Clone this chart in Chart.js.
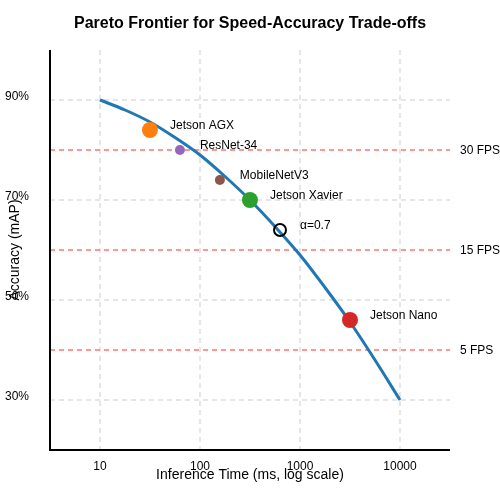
<!DOCTYPE html>
<html>
<head>
<meta charset="utf-8">
<script src="https://cdn.jsdelivr.net/npm/chart.js@4/dist/chart.umd.min.js"></script>
<style>
html,body{margin:0;padding:0;background:#fff;}
#wrap{width:500px;height:500px;position:relative;}
</style>
</head>
<body>
<div id="wrap"><canvas id="c" width="500" height="500"></canvas></div>
<script>
// ---- data ----
const frontierTime = [10, 17.8, 31.6, 56.2, 100, 178, 316, 562, 1000, 1778, 3162, 5623, 10000];
const frontierAcc  = [90, 88, 85.6, 82.5, 79, 74.7, 70, 64.7, 59, 52.5, 45.6, 38, 30];

const pointNames = ["Jetson AGX", "ResNet-34", "MobileNetV3", "Jetson Xavier", "α=0.7", "Jetson Nano"];
const pointTime  = [31.6, 63, 158, 316, 631, 3162];
const pointAcc   = [84, 80, 74, 70, 64, 46];

const fpsLabels = ["30 FPS", "15 FPS", "5 FPS"];
const fpsAcc    = [80, 60, 40];

const xTickValues = [10, 100, 1000, 10000];
const xTickLabels = ["10", "100", "1000", "10000"];
const yTickValues = [30, 50, 70, 90];
const yTickLabels = ["30%", "50%", "70%", "90%"];

const titleText = 'Pareto Frontier for Speed-Accuracy Trade-offs';
const xTitle = 'Inference Time (ms, log scale)';
const yTitle = 'Accuracy (mAP)';

const xMin = 3.1623, xMax = 31623;
const yMin = 20, yMax = 100;

// ---- styles ----
const pointColors = ["#ff7f0e", "#9467bd", "#8c564b", "#2ca02c", "rgba(0,0,0,0)", "#d62728"];
const pointBorders = ["#ff7f0e", "#9467bd", "#8c564b", "#2ca02c", "#000000", "#d62728"];
const pointRadii = [8, 5, 5, 8, 6, 8];
const pointBorderW = [0, 0, 0, 0, 2, 0];
const FONT = "'Liberation Sans', Arial, sans-serif";

const datasets = [];
fpsAcc.forEach((v, i) => {
  datasets.push({
    type: 'line',
    label: fpsLabels[i],
    data: [{x: xMin, y: v}, {x: xMax, y: v}],
    borderColor: 'rgba(255,100,100,0.9)',
    borderWidth: 1.5,
    borderDash: [5, 4],
    pointRadius: 0,
    fill: false,
    order: 3
  });
});
datasets.push({
  type: 'line',
  label: 'frontier',
  data: frontierTime.map((t, i) => ({x: t, y: frontierAcc[i]})),
  borderColor: '#1f77b4',
  borderWidth: 3,
  pointRadius: 0,
  tension: 0.4,
  cubicInterpolationMode: 'monotone',
  fill: false,
  order: 2
});
pointNames.forEach((n, i) => {
  datasets.push({
    type: 'scatter',
    label: n,
    data: [{x: pointTime[i], y: pointAcc[i]}],
    backgroundColor: pointColors[i],
    borderColor: pointBorders[i],
    borderWidth: pointBorderW[i],
    pointRadius: pointRadii[i],
    order: 1
  });
});

const textPlugin = {
  id: 'texts',
  afterDatasetsDraw(chart) {
    const ctx = chart.ctx;
    const xs = chart.scales.x, ys = chart.scales.y;
    ctx.save();
    ctx.fillStyle = '#000';
    ctx.textBaseline = 'middle';
    // title
    ctx.font = 'bold 16px ' + FONT;
    ctx.textAlign = 'center';
    ctx.fillText(titleText, 250, 24);
    ctx.font = '12px ' + FONT;
    ctx.textAlign = 'left';
    pointNames.forEach((n, i) => {
      const px = xs.getPixelForValue(pointTime[i]);
      const py = ys.getPixelForValue(pointAcc[i]);
      ctx.fillText(n, px + 20, py - 4);
    });
    fpsLabels.forEach((n, i) => {
      const py = ys.getPixelForValue(fpsAcc[i]);
      ctx.fillText(n, xs.right + 10, py + 1);
    });
    // axis titles
    ctx.font = '14px ' + FONT;
    ctx.textAlign = 'center';
    ctx.fillText(xTitle, (xs.left + xs.right) / 2, 475);
    ctx.translate(15, (ys.top + ys.bottom) / 2);
    ctx.rotate(-Math.PI / 2);
    ctx.fillText(yTitle, 0, 0);
    ctx.restore();
    // axes lines
    ctx.save();
    ctx.strokeStyle = '#000';
    ctx.lineWidth = 2;
    ctx.beginPath();
    ctx.moveTo(xs.left, ys.top);
    ctx.lineTo(xs.left, ys.bottom);
    ctx.lineTo(xs.right, ys.bottom);
    ctx.stroke();
    ctx.restore();
  }
};

new Chart(document.getElementById('c'), {
  type: 'scatter',
  data: { datasets },
  options: {
    responsive: false,
    animation: false,
    layout: { padding: { left: 5, right: 50, top: 50, bottom: 0 } },
    plugins: {
      legend: { display: false },
      tooltip: { enabled: false },
      title: { display: false }
    },
    scales: {
      x: {
        type: 'logarithmic',
        min: xMin, max: xMax,
        afterBuildTicks(s) { s.ticks = xTickValues.map(v => ({value: v})); },
        afterFit(s) { s.height = 50; },
        ticks: {
          autoSkip: false, maxRotation: 0,
          color: '#000', font: { family: FONT, size: 12 }, padding: 9,
          callback(v) { const i = xTickValues.indexOf(v); return i >= 0 ? xTickLabels[i] : ''; }
        },
        grid: { color: '#e6e6e6', lineWidth: 2, drawTicks: false },
        border: { display: false, dash: [5, 4] }
      },
      y: {
        type: 'linear',
        min: yMin, max: yMax,
        afterBuildTicks(s) { s.ticks = yTickValues.map(v => ({value: v})); },
        afterFit(s) { s.width = 45; },
        ticks: {
          autoSkip: false, crossAlign: 'far', labelOffset: -3,
          color: '#000', font: { family: FONT, size: 12 },
          callback(v) { const i = yTickValues.indexOf(v); return i >= 0 ? yTickLabels[i] : ''; }
        },
        grid: { color: '#e6e6e6', lineWidth: 2, drawTicks: false },
        border: { display: false, dash: [5, 4] }
      }
    }
  },
  plugins: [textPlugin]
});
</script>
</body>
</html>
